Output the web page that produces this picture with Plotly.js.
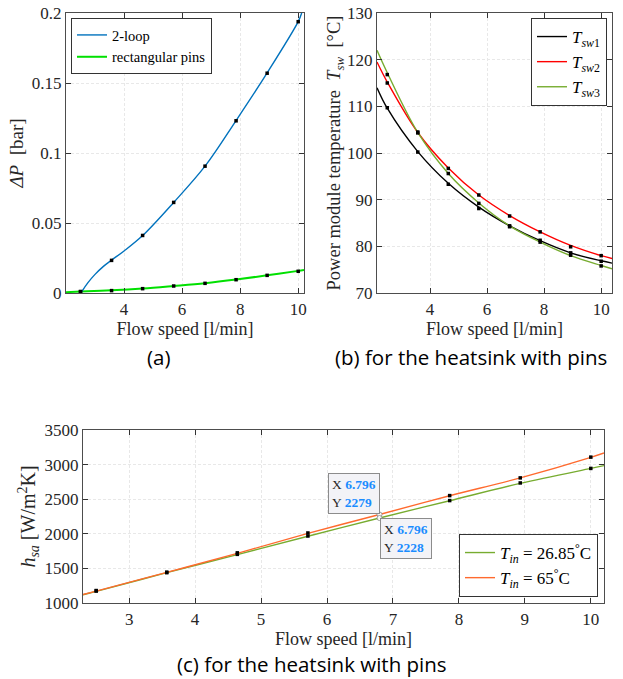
<!DOCTYPE html>
<html>
<head>
<meta charset="utf-8">
<script src="https://cdn.plot.ly/plotly-3.0.1.min.js"></script>
<style>html,body{margin:0;padding:0;background:#fff;}#chart{width:623px;height:679px;}</style>
</head>
<body>
<div id="chart"></div>
<script>
// ---------- data ----------
// (a) pressure drop
const flowPts      = [2.5, 3.57, 4.64, 5.71, 6.79, 7.86, 8.93, 10.0];
const dp2LoopPts   = [0.001, 0.0233, 0.0411, 0.0647, 0.0906, 0.123, 0.157, 0.1938];
const dpPinsPts    = [0.001, 0.0017, 0.0031, 0.005, 0.0069, 0.0095, 0.0126, 0.0155];
const dp2LoopFitX  = [2.55, 2.75, 3.0, 3.3, 3.57, 4.0, 4.64, 5.71, 6.79, 7.86, 8.93, 10.0, 10.12];
const dp2LoopFitY  = [0.0012, 0.0072, 0.0133, 0.0192, 0.0235, 0.0300, 0.041, 0.0647, 0.0906, 0.1232, 0.1572, 0.1938, 0.2];
const dpPinsFitX   = [2.0, 2.5, 3.57, 4.64, 5.71, 6.79, 7.86, 8.93, 10.0, 10.2];
const dpPinsFitY   = [0.0006, 0.001, 0.0019, 0.0032, 0.005, 0.007, 0.0096, 0.0126, 0.0158, 0.0165];

// (b) power module temperature
const tsw1Pts = [109.7, 100.2, 93.3, 88.1, 84.4, 81.3, 78.6, 76.8];
const tsw2Pts = [115.0, 104.5, 96.7, 91.0, 86.5, 83.1, 79.9, 78.0];
const tsw3Pts = [116.8, 104.3, 95.6, 89.2, 84.2, 80.9, 78.1, 75.8];
const tswFitX = [2.14, 2.5, 3.57, 4.64, 5.71, 6.79, 7.86, 8.93, 10.0, 10.38];
const tsw1Fit = [114.0, 109.6, 100.3, 93.5, 88.4, 84.4, 81.2, 78.6, 76.9, 76.4];
const tsw2Fit = [119.5, 115.2, 104.4, 96.8, 91.0, 86.6, 83.1, 80.2, 78.0, 77.4];
const tsw3Fit = [122.0, 117.2, 104.4, 95.6, 89.3, 84.4, 80.9, 78.0, 75.9, 75.2];

// (c) heat transfer coefficient
const hsaPtsX  = [2.5, 3.57, 4.64, 5.71, 7.86, 8.93, 10.0];
const hsa27Pts = [1172, 1438, 1703, 1968, 2480, 2735, 2945];
const hsa65Pts = [1180, 1446, 1725, 2012, 2552, 2808, 3108];
const hsaFitX  = [2.3, 2.5, 3.57, 4.64, 5.71, 6.796, 7.86, 8.93, 10.0, 10.2];
const hsa27Fit = [1120, 1168, 1438, 1700, 1965, 2228, 2478, 2728, 2945, 2985];
const hsa65Fit = [1122, 1172, 1443, 1718, 2005, 2279, 2550, 2808, 3105, 3168];
const tipX = 6.796;
const tipY = [2279, 2228];

// tick labels
const ticksA_x = [4, 6, 8, 10];
const ticksA_y = [0, 0.05, 0.1, 0.15, 0.2];
const ticksA_yText = ['0', '0.05', '0.1', '0.15', '0.2'];
const ticksB_x = [4, 6, 8, 10];
const ticksB_y = [70, 80, 90, 100, 110, 120, 130];
const ticksC_x = [3, 4, 5, 6, 7, 8, 9, 10];
const ticksC_y = [1000, 1500, 2000, 2500, 3000, 3500];

// ---------- styling ----------
const SERIF = 'Liberation Serif, Times New Roman, serif';
const BLUE = '#0072BD', LIME = '#00E000', OLIVE = '#77AC30', RED = '#FF0000', ORANGE = '#FF6A2E';

function axisBase(extra) {
  return Object.assign({
    showline: true, mirror: 'ticks', linecolor: '#4d4d4d', linewidth: 1.2,
    ticks: 'inside', ticklen: 5, tickcolor: '#333', tickwidth: 1,
    showgrid: true, gridcolor: '#e8e8e8', griddash: '3px,2px', gridwidth: 1,
    zeroline: false, tickfont: {family: SERIF, size: 17, color: '#262626'},
    tickmode: 'array'
  }, extra);
}

const dots = (x, y, xa, ya) => ({x: x, y: y, xaxis: xa, yaxis: ya, mode: 'markers', type: 'scatter',
  marker: {symbol: 'square', size: 3.5, color: '#000'}, showlegend: false, hoverinfo: 'skip'});
const fit = (x, y, xa, ya, color, name, leg, w) => ({x: x, y: y, xaxis: xa, yaxis: ya, mode: 'lines', type: 'scatter',
  line: {color: color, width: w || 1.4, shape: 'spline', smoothing: 1}, name: name, legend: leg, cliponaxis: true});

const traces = [
  fit(dpPinsFitX, dpPinsFitY, 'x', 'y', LIME, 'rectangular pins', 'legend', 2),
  fit(dp2LoopFitX, dp2LoopFitY, 'x', 'y', BLUE, '2-loop', 'legend'),
  dots(flowPts, dp2LoopPts, 'x', 'y'),
  dots(flowPts, dpPinsPts, 'x', 'y'),

  fit(tswFitX, tsw1Fit, 'x2', 'y2', '#000', '<i>T</i><sub><i>sw</i>1</sub>', 'legend2'),
  fit(tswFitX, tsw2Fit, 'x2', 'y2', RED, '<i>T</i><sub><i>sw</i>2</sub>', 'legend2'),
  fit(tswFitX, tsw3Fit, 'x2', 'y2', OLIVE, '<i>T</i><sub><i>sw</i>3</sub>', 'legend2'),
  dots(flowPts, tsw1Pts, 'x2', 'y2'),
  dots(flowPts, tsw2Pts, 'x2', 'y2'),
  dots(flowPts, tsw3Pts, 'x2', 'y2'),

  fit(hsaFitX, hsa27Fit, 'x3', 'y3', OLIVE, '<i>T</i><sub><i>in</i></sub> = 26.85<sup>°</sup>C', 'legend3'),
  fit(hsaFitX, hsa65Fit, 'x3', 'y3', ORANGE, '<i>T</i><sub><i>in</i></sub> = 65<sup>°</sup>C', 'legend3'),
  dots(hsaPtsX, hsa27Pts, 'x3', 'y3'),
  dots(hsaPtsX, hsa65Pts, 'x3', 'y3'),
  {x: [tipX, tipX], y: tipY, xaxis: 'x3', yaxis: 'y3', mode: 'markers', type: 'scatter',
   marker: {symbol: 'circle', size: 5, color: 'rgba(255,255,255,0.9)', line: {color: '#999', width: 1}},
   showlegend: false, hoverinfo: 'skip'}
];

const xTitle = {text: 'Flow speed [l/min]', font: {family: SERIF, size: 18, color: '#262626'}, standoff: 1};
const tipText = (x, y) => 'X <span style="color:#1a8cff"><b>' + x.toFixed(3) + '</b></span><br>Y <span style="color:#1a8cff"><b>' + y + '</b></span>';
const tipAnn = (y, xa, ya) => ({x: tipX, y: y, xref: 'x3', yref: 'y3', showarrow: false, xanchor: xa, yanchor: ya,
  text: tipText(tipX, y), align: 'left', bgcolor: '#f3f3f7', bordercolor: '#8c8c8c', borderwidth: 1, borderpad: 3,
  font: {family: SERIF, size: 13.5, color: '#262626'}});
const caption = (text, x, y) => ({text: text, x: x, y: y, xref: 'paper', yref: 'paper', showarrow: false,
  xanchor: 'center', yanchor: 'middle', font: {family: 'Open Sans, DejaVu Sans, sans-serif', size: 20.5, color: '#000'}});
const legendStyle = (x, y, xa, ya, size) => ({x: x, y: y, xanchor: xa, yanchor: ya, xref: 'paper', yref: 'paper',
  bgcolor: '#fff', bordercolor: '#333', borderwidth: 1, font: {family: SERIF, size: size, color: '#000'},
  itemwidth: 30, tracegroupgap: 0, traceorder: 'normal'});

const layout = {
  width: 623, height: 679, margin: {l: 0, r: 0, t: 0, b: 0},
  paper_bgcolor: '#fff', plot_bgcolor: '#fff',
  showlegend: true,
  xaxis: axisBase({domain: [66/623, 304/623], anchor: 'y', range: [2.0, 10.2], tickvals: ticksA_x, title: xTitle}),
  yaxis: axisBase({domain: [1 - 293/679, 1 - 13/679], anchor: 'x', range: [0, 0.2], tickvals: ticksA_y, ticktext: ticksA_yText,
    title: {text: '<i>ΔP</i>\u00A0 [bar]', font: {family: SERIF, size: 19, color: '#262626'}, standoff: 3}}),
  xaxis2: axisBase({domain: [377/623, 612/623], anchor: 'y2', range: [2.14, 10.38], tickvals: ticksB_x, title: xTitle}),
  yaxis2: axisBase({domain: [1 - 293/679, 1 - 13/679], anchor: 'x2', range: [70, 130], tickvals: ticksB_y,
    title: {text: 'Power module temperature\u00A0 <i>T</i><sub><i>sw</i></sub>\u00A0 [°C]', font: {family: SERIF, size: 18.5, color: '#262626'}, standoff: 0}}),
  xaxis3: axisBase({domain: [83/623, 604/623], anchor: 'y3', range: [2.3, 10.2], tickvals: ticksC_x, title: xTitle}),
  yaxis3: axisBase({domain: [1 - 603/679, 1 - 430/679], anchor: 'x3', range: [1000, 3500], tickvals: ticksC_y,
    title: {text: '<i>h</i><sub><i>sa</i></sub> [W/m<sup>2</sup>K]', font: {family: SERIF, size: 20, color: '#262626'}, standoff: 3}}),
  legend: Object.assign(legendStyle(71/623, 1 - 18/679, 'left', 'top', 14.5), {traceorder: 'reversed'}),
  legend2: legendStyle(607/623, 1 - 18/679, 'right', 'top', 17),
  legend3: legendStyle(598/623, 1 - 597/679, 'right', 'bottom', 17),
  annotations: [
    tipAnn(tipY[0], 'right', 'bottom'),
    tipAnn(tipY[1], 'left', 'top'),
    caption('(a)', 158/623, 1 - 357/679),
    caption('(b) for the heatsink with pins', 471/623, 1 - 357/679),
    caption('(c) for the heatsink with pins', 312/623, 1 - 664/679)
  ]
};

Plotly.newPlot('chart', traces, layout, {staticPlot: true, displayModeBar: false});
</script>
</body>
</html>
